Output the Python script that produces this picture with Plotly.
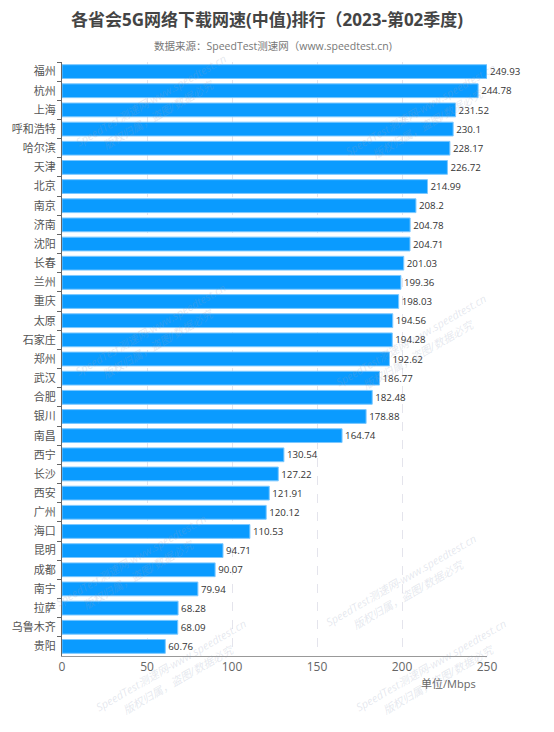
import plotly.graph_objects as go

provinces = ["福州", "杭州", "上海", "呼和浩特", "哈尔滨", "天津", "北京", "南京", "济南", "沈阳",
             "长春", "兰州", "重庆", "太原", "石家庄", "郑州", "武汉", "合肥", "银川", "南昌",
             "西宁", "长沙", "西安", "广州", "海口", "昆明", "成都", "南宁", "拉萨", "乌鲁木齐", "贵阳"]
speeds = [249.93, 244.78, 231.52, 230.1, 228.17, 226.72, 214.99, 208.2, 204.78, 204.71,
          201.03, 199.36, 198.03, 194.56, 194.28, 192.62, 186.77, 182.48, 178.88, 164.74,
          130.54, 127.22, 121.91, 120.12, 110.53, 94.71, 90.07, 79.94, 68.28, 68.09, 60.76]
x_ticks = [0, 50, 100, 150, 200, 250]

title_text = "各省会5G网络下载网速(中值)排行（2023-第02季度)"
subtitle_text = "数据来源：SpeedTest测速网（www.speedtest.cn)"
unit_text = "单位/Mbps"
wm1 = "SpeedTest测速网-www.speedtest.cn"
wm2 = "版权归属，盗图/数据必究"

FONT = "Open Sans, Noto Sans CJK SC, sans-serif"

# page has an 8px body margin; figure coordinates = page coordinates - 8
OFF = 8
W, H = 554 - 2 * OFF, 732 - 2 * OFF
L = 62 - OFF
T = 62 - OFF
R = W - (487 - OFF)
B = H - (656 - OFF)

fig = go.Figure(go.Bar(
    y=provinces, x=speeds, orientation="h",
    marker=dict(color="#0A9BFF", line=dict(color="#7CC8FF", width=1)),
    text=[f"{v:g}" for v in speeds], textposition="outside",
    textfont=dict(size=12, color="#333", family=FONT),
    cliponaxis=False, width=0.72,
))

fig.update_layout(
    width=W, height=H,
    margin=dict(l=L, r=R, t=T, b=B, autoexpand=False),
    paper_bgcolor="white", plot_bgcolor="white",
    font=dict(family=FONT, size=11, color="#555"),
    showlegend=False,
    xaxis=dict(range=[0, 250], tickvals=x_ticks, showgrid=True, gridcolor="#E4E4EC",
               griddash="dash", gridwidth=1, zeroline=False, showline=True, automargin=False,
               linecolor="#999", linewidth=1, ticks="", tickfont=dict(size=12, color="#666")),
    yaxis=dict(autorange="reversed", showline=True, linecolor="#666", linewidth=1, automargin=False,
               ticks="outside", ticklen=4, tickcolor="#666", tickson="boundaries",
               ticklabelstandoff=3,
               tickfont=dict(size=11, color="#555"), showgrid=False),
    bargap=0.28,
)

pw, ph = W - L - R, H - T - B

def px2paper(px, py):
    # px, py in page pixels
    return (px - OFF - L) / pw, (H - B - (py - OFF)) / ph

out = []
for txt, px, py, size, color, bold in [
    (title_text, 267, 20, 17, "#444", True),
    (subtitle_text, 273, 46, 10.5, "#777", False),
    (unit_text, 448, 683, 11, "#666", False),
]:
    x, y = px2paper(px, py)
    out.append(dict(text=txt, x=x, y=y, xref="paper", yref="paper", showarrow=False,
                    xanchor="center", yanchor="middle",
                    font=dict(size=size, color=color, family=FONT, weight="bold" if bold else "normal")))

# watermarks
wm_positions = [(150, 100), (420, 110), (150, 330), (410, 340), (130, 560), (400, 580), (170, 665), (430, 665)]
for (px, py) in wm_positions:
    for i, t in enumerate([wm1, wm2]):
        x, y = px2paper(px + i * 8, py + i * 14)
        out.append(dict(text=t, x=x, y=y, xref="paper", yref="paper", showarrow=False, textangle=-30,
                        font=dict(size=11, color="rgba(150,160,190,0.25)", family=FONT, style="italic"),
                        xanchor="center", yanchor="middle"))
fig.update_layout(annotations=out)

fig.write_html("out.html")
